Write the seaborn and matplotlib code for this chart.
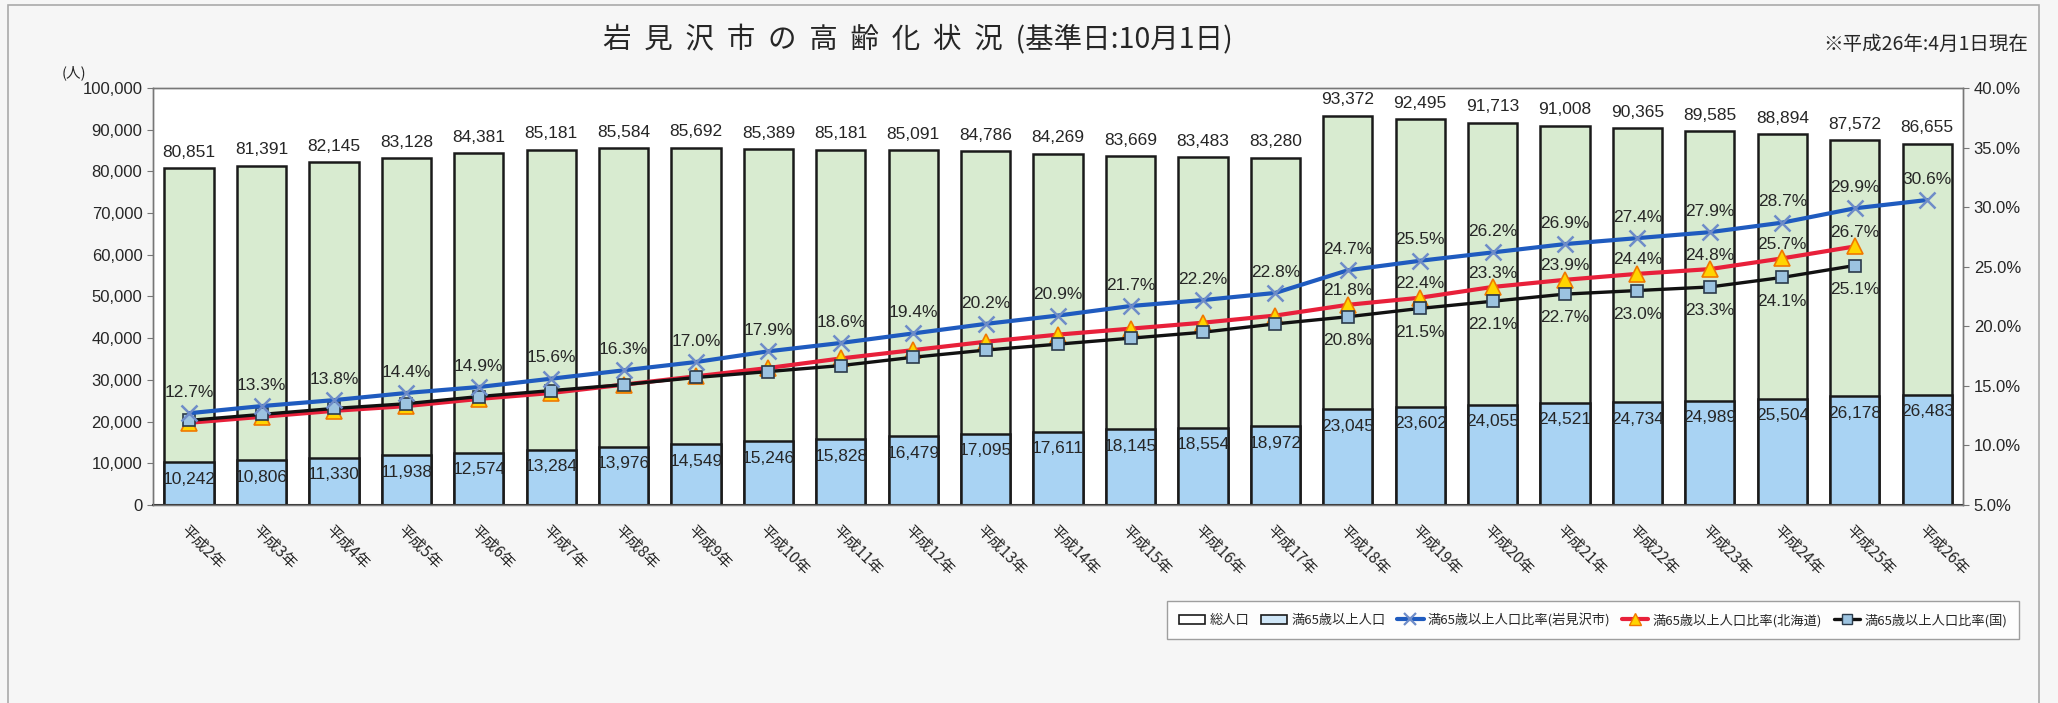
import matplotlib
matplotlib.use('Agg')
from matplotlib import pyplot as plt
from matplotlib.patches import Patch, Rectangle
from matplotlib.lines import Line2D
import seaborn as sns
import pandas as pd
import numpy as np

years = ['平成%d年' % n for n in range(2, 27)]
total = [80851, 81391, 82145, 83128, 84381, 85181, 85584, 85692, 85389, 85181,
         85091, 84786, 84269, 83669, 83483, 83280, 93372, 92495, 91713, 91008,
         90365, 89585, 88894, 87572, 86655]
elderly = [10242, 10806, 11330, 11938, 12574, 13284, 13976, 14549, 15246, 15828,
           16479, 17095, 17611, 18145, 18554, 18972, 23045, 23602, 24055, 24521,
           24734, 24989, 25504, 26178, 26483]
rate_city = [12.7, 13.3, 13.8, 14.4, 14.9, 15.6, 16.3, 17.0, 17.9, 18.6,
             19.4, 20.2, 20.9, 21.7, 22.2, 22.8, 24.7, 25.5, 26.2, 26.9,
             27.4, 27.9, 28.7, 29.9, 30.6]
# 北海道 / 国 : 平成2年〜平成25年 (ラベルは平成18年以降のみ)
rate_hokkaido = [11.9, 12.4, 12.9, 13.3, 13.9, 14.4, 15.1, 15.8, 16.5, 17.3,
                 18.0, 18.7, 19.3, 19.8, 20.3, 20.9, 21.8, 22.4, 23.3, 23.9,
                 24.4, 24.8, 25.7, 26.7]
rate_japan = [12.1, 12.6, 13.1, 13.5, 14.1, 14.6, 15.1, 15.7, 16.2, 16.7,
              17.4, 18.0, 18.5, 19.0, 19.5, 20.2, 20.8, 21.5, 22.1, 22.7,
              23.0, 23.3, 24.1, 25.1]
labeled_from = 16  # 平成18年

sns.set_style('white')
plt.rcParams['font.family'] = ['Liberation Sans Narrow', 'Liberation Sans', 'Noto Sans CJK JP']
jp = ['Noto Sans CJK JP', 'DejaVu Sans']

fig = plt.figure(figsize=(20.58, 7.03), dpi=100, facecolor='#f6f6f6')
ax = fig.add_axes([0.0743, 0.2817, 0.8797, 0.5931])
ax.set_facecolor('white')

df = pd.DataFrame({'year': years, 'total': total, 'elderly': elderly, 'city': rate_city})
df_hk = pd.DataFrame({'year': years[:len(rate_hokkaido)], 'rate': rate_hokkaido})
df_jp = pd.DataFrame({'year': years[:len(rate_japan)], 'rate': rate_japan})

sns.barplot(x='year', y='total', data=df, color='#d8ebd0', saturation=1, width=0.68,
            edgecolor='#1a1a1a', linewidth=1.8, ax=ax)
sns.barplot(x='year', y='elderly', data=df, color='#a9d3f3', saturation=1, width=0.68,
            edgecolor='#1a1a1a', linewidth=1.8, ax=ax)

for i, v in enumerate(total):
    ax.annotate(f'{v:,}', (i, v), xytext=(0, 6), textcoords='offset points',
                ha='center', va='bottom', fontsize=12.5)
for i, v in enumerate(elderly):
    ax.annotate(f'{v:,}', (i, v), xytext=(0, -7), textcoords='offset points',
                ha='center', va='top', fontsize=12.5)

ax.set_ylim(0, 100000)
ax.set_yticks(np.arange(0, 100001, 10000))
ax.set_yticklabels([f'{v:,}' for v in range(0, 100001, 10000)], fontsize=12)

# 比率 (右軸)
ax2 = ax.twinx()
sns.pointplot(x='year', y='rate', data=df_hk, order=years, errorbar=None, ax=ax2,
              color='#e8203a', markers='^', linewidth=3, markersize=11,
              markerfacecolor='#ffd400', markeredgecolor='#f07800', markeredgewidth=1.2)
sns.pointplot(x='year', y='rate', data=df_jp, order=years, errorbar=None, ax=ax2,
              color='#111111', markers='s', linewidth=2.4, markersize=8.5,
              markerfacecolor='#9cc3e0', markeredgecolor='#2a3a4a', markeredgewidth=1.2)
sns.pointplot(x='year', y='city', data=df, order=years, errorbar=None, ax=ax2,
              color='#1f5bbf', markers='x', linewidth=3, markersize=12,
              markeredgecolor='#6e8cc8', markeredgewidth=1.8)

for i, v in enumerate(rate_city):
    ax2.annotate(f'{v:.1f}%', (i, v), xytext=(0, 15), textcoords='offset points',
                 ha='center', va='center', fontsize=12.5)
for i in range(labeled_from, len(rate_hokkaido)):
    ax2.annotate(f'{rate_hokkaido[i]:.1f}%', (i, rate_hokkaido[i]), xytext=(0, 10),
                 textcoords='offset points', ha='center', va='center', fontsize=12.5)
for i in range(labeled_from, len(rate_japan)):
    ax2.annotate(f'{rate_japan[i]:.1f}%', (i, rate_japan[i]), xytext=(0, -17),
                 textcoords='offset points', ha='center', va='center', fontsize=12.5)

ax2.set_ylim(5, 40)
ax2.set_yticks(np.arange(5, 41, 5))
ax2.set_yticklabels([f'{v:.1f}%' for v in range(5, 41, 5)], fontsize=12)
ax2.set_ylabel('')
ax.set_ylabel('')
ax.set_xlabel('')
ax2.set_xlabel('')
ax.set_xlim(-0.5, len(years) - 0.5)

ax.set_xticks(range(len(years)))
ax.set_xticklabels(years, rotation=-45, ha='left', va='top', rotation_mode='anchor',
                   fontsize=11, family=jp)
ax.set_xticks(np.arange(-0.5, len(years), 1), minor=True)
ax.tick_params(axis='x', which='major', length=0, pad=12)
ax.tick_params(axis='x', which='minor', length=4, direction='in', color='#555555')
ax.tick_params(axis='y', length=4, direction='out', color='#777777', left=True)
ax2.tick_params(axis='y', length=4, direction='out', color='#777777', right=True)

for a in (ax, ax2):
    for s in a.spines.values():
        s.set_color('#777777')
        s.set_linewidth(1.0)
ax.spines['bottom'].set_color('#333333')
ax.spines['bottom'].set_linewidth(1.5)

fig.text(0.036, 0.897, '(人)', ha='center', va='center', fontsize=10.5, family=jp)
fig.text(0.446, 0.942, '岩  見  沢  市  の  高  齢  化  状  況  (基準日:10月1日)',
         ha='center', va='center', fontsize=20.5, family=jp)
fig.text(0.9854, 0.937, '※平成26年:4月1日現在', ha='right', va='center',
         fontsize=14, family=jp)

handles = [
    Patch(facecolor='white', edgecolor='#1a1a1a', linewidth=1.2),
    Patch(facecolor='#cfe6f7', edgecolor='#1a1a1a', linewidth=1.2),
    Line2D([], [], color='#1f5bbf', lw=3, marker='x', ms=9, mec='#6e8cc8', mew=1.6),
    Line2D([], [], color='#e8203a', lw=3, marker='^', ms=9, mfc='#ffd400', mec='#f07800'),
    Line2D([], [], color='#111111', lw=2.4, marker='s', ms=7, mfc='#9cc3e0', mec='#2a3a4a'),
]
labels = ['総人口', '満65歳以上人口', '満65歳以上人口比率(岩見沢市)',
          '満65歳以上人口比率(北海道)', '満65歳以上人口比率(国)']
leg = fig.legend(handles, labels, loc='center', bbox_to_anchor=(0.774, 0.118), ncol=5,
                 frameon=True, fancybox=False, edgecolor='#888888',
                 handlelength=2.0, handletextpad=0.3, columnspacing=0.9, borderpad=0.9,
                 prop={'family': jp, 'size': 9.5})
leg.get_frame().set_linewidth(1.0)
leg.get_frame().set_facecolor('white')

fig.add_artist(Rectangle((0.004, -0.01), 0.987, 1.003, transform=fig.transFigure,
                         fill=False, edgecolor='#aaaaaa', linewidth=1.2))

fig.savefig('out.png', dpi=100, facecolor=fig.get_facecolor())
